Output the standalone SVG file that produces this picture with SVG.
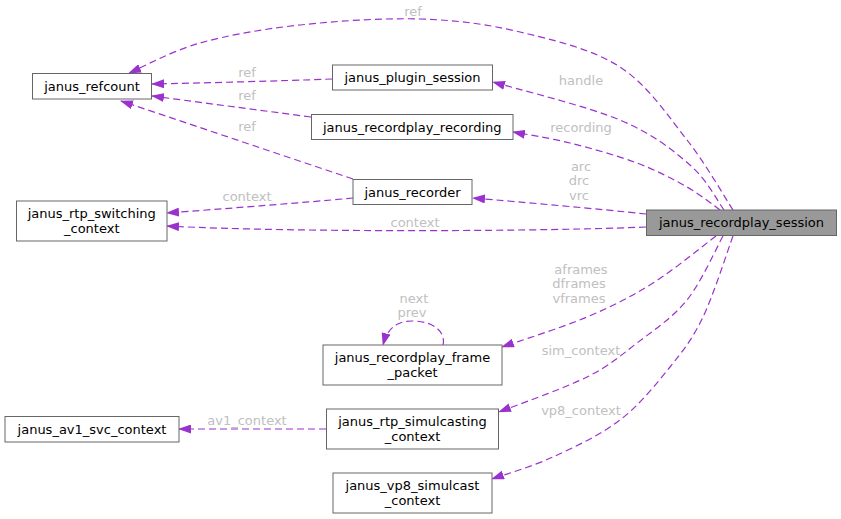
<svg xmlns="http://www.w3.org/2000/svg" width="841" height="519" viewBox="0 0 841 519">
<style>
  .node rect { fill: #ffffff; stroke: #666666; stroke-width: 1; }
  .node text { font-family: "DejaVu Sans", "Liberation Sans", sans-serif; font-size: 13px; fill: #000000; text-anchor: middle; }
  .edge path { fill: none; stroke: #9a32cd; stroke-width: 1.2; stroke-dasharray: 7,4; marker-end: url(#arrow); }
  .lbl { font-family: "DejaVu Sans", "Liberation Sans", sans-serif; font-size: 13px; fill: #c0c0c0; text-anchor: middle; }
</style>
<defs>
  <marker id="arrow" viewBox="0 0 13 9" refX="12" refY="4.5" markerWidth="13" markerHeight="9" markerUnits="userSpaceOnUse" orient="auto">
    <path d="M0,0 L13,4.5 L0,9 z" fill="#9a32cd" stroke="none"/>
  </marker>
</defs>
<rect width="841" height="519" fill="#ffffff"/>

<g id="connectors" class="edge">
  <path d="M733,210 C725.3,198.3 705.8,163.8 687,140 C668.2,116.2 647.8,85 620,67 C592.2,49 553.3,40 520,32 C486.7,24 456.7,20.2 420,19 C383.3,17.8 336.7,21 300,25 C263.3,29 228.5,35 200,43 C171.5,51 140.8,68 129,73"/>
  <path d="M724,210 C718.3,202.5 707.3,180 690,165 C672.7,150 652.8,133.8 620,120 C587.2,106.2 514.2,88.3 493,82"/>
  <path d="M720,210 C714.5,206.2 700.8,194.8 687,187 C673.2,179.2 656.5,170.3 637,163 C617.5,155.7 590.7,148.2 570,143 C549.3,137.8 522.5,133.8 513,132"/>
  <path d="M646,214 C600,209 520,202 473,198"/>
  <path d="M646,227 C560,231 300,233 167,226"/>
  <path d="M353,198 C300,203 220,209 167,213"/>
  <path d="M332,79 C280,81 200,83 152,84"/>
  <path d="M311,117 L152,96"/>
  <path d="M353,179 L121,101"/>
  <path d="M716,236 C705.5,243.8 674.5,269.5 653,283 C631.5,296.5 612.2,306.3 587,317 C561.8,327.7 516.2,342 502,347"/>
  <path d="M723,236 C717,246.7 701.3,282.2 687,300 C672.7,317.8 653.7,330.2 637,343 C620.3,355.8 610,365.5 587,377 C564,388.5 513.7,406.2 499,412"/>
  <path d="M733,236 C728,249.5 713.5,295.2 703,317 C692.5,338.8 683.8,349.8 670,367 C656.2,384.2 639.5,405 620,420 C600.5,435 574.3,447.2 553,457 C531.7,466.8 502.2,475.3 492,479"/>
  <path d="M326,429 L179,429"/>
  <path d="M443,345 C446,333 435,321 412,321 C395,321 387,330 383,345"/>
</g>

<g id="edge-labels">
  <text class="lbl" x="413" y="16">ref</text>
  <text class="lbl" x="581" y="85">handle</text>
  <text class="lbl" x="581" y="132">recording</text>
  <text class="lbl" x="581" y="170.5">arc</text>
  <text class="lbl" x="579" y="185">drc</text>
  <text class="lbl" x="579" y="199.5">vrc</text>
  <text class="lbl" x="415" y="226.5">context</text>
  <text class="lbl" x="247" y="201">context</text>
  <text class="lbl" x="247" y="77">ref</text>
  <text class="lbl" x="247" y="100">ref</text>
  <text class="lbl" x="247" y="130.5">ref</text>
  <text class="lbl" x="581" y="273.5">aframes</text>
  <text class="lbl" x="579" y="288">dframes</text>
  <text class="lbl" x="579" y="302.5">vframes</text>
  <text class="lbl" x="581" y="354.5">sim_context</text>
  <text class="lbl" x="581" y="414.5">vp8_context</text>
  <text class="lbl" x="247" y="425">av1_context</text>
  <text class="lbl" x="414" y="302.5">next</text>
  <text class="lbl" x="412" y="317">prev</text>
</g>

<g id="janus_recordplay_session" class="node">
  <rect x="646.5" y="210" width="190" height="25.5" style="fill:#999999"/>
  <text x="741.5" y="226.5">janus_recordplay_session</text>
</g>
<g id="janus_refcount" class="node">
  <rect x="32.5" y="73.5" width="119" height="25.5"/>
  <text x="92" y="90.5">janus_refcount</text>
</g>
<g id="janus_plugin_session" class="node">
  <rect x="332.5" y="65" width="160" height="25"/>
  <text x="412.5" y="82">janus_plugin_session</text>
</g>
<g id="janus_recordplay_recording" class="node">
  <rect x="311.5" y="114.5" width="201.5" height="25"/>
  <text x="412.25" y="131.5">janus_recordplay_recording</text>
</g>
<g id="janus_recorder" class="node">
  <rect x="353" y="179.5" width="119" height="25"/>
  <text x="412.5" y="196.5">janus_recorder</text>
</g>
<g id="janus_rtp_switching_context" class="node">
  <rect x="16.5" y="201" width="150.5" height="40"/>
  <text x="91.75" y="217.5">janus_rtp_switching</text>
  <text x="91.75" y="232.5">_context</text>
</g>
<g id="janus_recordplay_frame_packet" class="node">
  <rect x="323" y="345" width="179" height="40"/>
  <text x="412.5" y="361.5">janus_recordplay_frame</text>
  <text x="412.5" y="376.5">_packet</text>
</g>
<g id="janus_rtp_simulcasting_context" class="node">
  <rect x="326.5" y="409" width="172" height="40"/>
  <text x="412.5" y="425.5">janus_rtp_simulcasting</text>
  <text x="412.5" y="440.5">_context</text>
</g>
<g id="janus_vp8_simulcast_context" class="node">
  <rect x="333" y="473" width="159" height="40"/>
  <text x="412.5" y="489.5">janus_vp8_simulcast</text>
  <text x="412.5" y="504.5">_context</text>
</g>
<g id="janus_av1_svc_context" class="node">
  <rect x="5" y="416.5" width="174" height="25.5"/>
  <text x="92" y="433.5">janus_av1_svc_context</text>
</g>
</svg>
